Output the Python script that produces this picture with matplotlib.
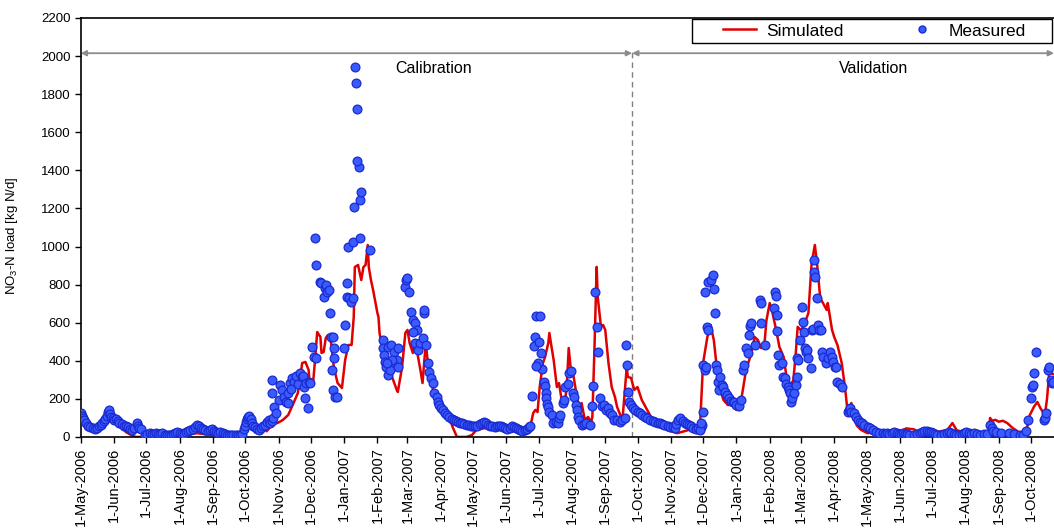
import numpy as np
import pandas as pd
import matplotlib
matplotlib.use("Agg")
import matplotlib.pyplot as plt
import matplotlib.dates as mdates
from matplotlib.lines import Line2D
from matplotlib.patches import Rectangle
from matplotlib.ticker import FuncFormatter

plt.rcParams['font.family'] = ['Liberation Sans', 'DejaVu Sans']

# days counted from 1-May-2006
START = pd.Timestamp('2006-05-01')
END_DAY = 905.5
SPLIT_DAY = 513  # end of calibration period

# simulated NO3-N load, (day, kg N/d)
sim_pts = [
    (0, 79), (2, 131), (5, 73), (10, 47), (14, 37), (19, 63), (24, 89), (27, 79), (30, 100),
    (33, 79), (38, 52), (42, 26), (47, 10), (51, 0), (56, 0), (62, 5), (70, 8), (80, 5),
    (90, 10), (100, 12), (108, 20), (115, 15), (125, 12), (135, 8), (145, 5), (150, 20),
    (154, 45), (157, 63), (161, 52), (166, 50), (171, 47), (173, 30), (176, 50), (179, 73),
    (183, 73), (188, 89), (193, 115), (198, 178), (202, 231), (204, 300), (206, 388),
    (209, 394), (212, 352), (213, 283), (216, 273), (218, 404), (220, 551), (223, 525),
    (224, 441), (226, 446), (228, 520), (230, 535), (233, 493), (235, 388), (236, 352),
    (239, 283), (243, 257), (246, 404), (249, 483), (252, 483), (254, 630), (255, 892),
    (258, 903), (261, 824), (263, 892), (265, 903), (267, 1008), (268, 892), (270, 824),
    (272, 772), (276, 651), (277, 630), (278, 546), (281, 457), (285, 388), (288, 336),
    (290, 310), (294, 247), (295, 236), (299, 368), (302, 546), (304, 562), (306, 493),
    (309, 441), (311, 509), (314, 415), (316, 352), (318, 283), (321, 493), (323, 388),
    (327, 262), (330, 210), (334, 158), (339, 126), (343, 100), (346, 52), (350, 0),
    (359, 0), (364, 10), (368, 37), (375, 45), (381, 52), (388, 40), (395, 50), (402, 38),
    (410, 45), (418, 47), (421, 126), (423, 142), (425, 131), (427, 262), (430, 388),
    (432, 420), (435, 493), (436, 546), (438, 473), (440, 404), (443, 262), (445, 283),
    (447, 210), (450, 178), (452, 247), (454, 467), (456, 352), (458, 336), (461, 231),
    (464, 142), (466, 178), (469, 89), (472, 105), (475, 79), (476, 105), (478, 473),
    (480, 893), (481, 735), (484, 578), (486, 588), (488, 562), (491, 388), (494, 262),
    (497, 210), (499, 158), (502, 115), (504, 89), (508, 367), (509, 315), (512, 310),
    (515, 247), (518, 262), (522, 194), (527, 142), (531, 100), (536, 73), (541, 52),
    (545, 37), (555, 20), (566, 37), (573, 20), (576, 37), (579, 388), (583, 525),
    (586, 588), (589, 509), (592, 352), (595, 247), (598, 194), (602, 168), (607, 168),
    (610, 142), (613, 142), (617, 283), (619, 352), (624, 441), (627, 525), (630, 509),
    (633, 467), (636, 483), (638, 614), (641, 703), (643, 667), (647, 562), (650, 473),
    (654, 420), (657, 300), (660, 262), (663, 300), (665, 420), (667, 578), (670, 560),
    (673, 588), (677, 651), (680, 913), (683, 1008), (685, 913), (688, 730), (690, 709),
    (694, 667), (695, 703), (699, 562), (701, 525), (704, 483), (708, 388), (711, 262),
    (713, 158), (715, 142), (717, 178), (720, 105), (722, 60), (726, 37), (732, 20),
    (740, 25), (750, 15), (760, 20), (768, 45), (775, 40), (780, 25), (790, 20), (800, 30),
    (806, 35), (811, 73), (815, 35), (822, 25), (832, 20), (840, 20), (845, 30), (846, 100),
    (848, 85), (851, 90), (854, 80), (858, 85), (862, 73), (867, 47), (874, 21), (878, 25),
    (881, 60), (883, 115), (887, 160), (890, 184), (893, 150), (897, 115), (899, 200),
    (901, 336), (905, 330),
]

# measured NO3-N load, (day, kg N/d)
meas_pts = [
    # May - Jun 2006
    (0, 126), (1, 110), (2, 100), (3, 90), (5, 75), (7, 60), (9, 52), (11, 45), (13, 40),
    (15, 47), (17, 55), (19, 63), (20, 75), (22, 85), (23, 95), (24, 110), (25, 130),
    (26, 142), (27, 120), (28, 105), (30, 100), (31, 90), (33, 95), (35, 85), (36, 75),
    (38, 68), (40, 60), (42, 55), (44, 50), (46, 40), (48, 35), (50, 45), (52, 75), (53, 60),
    (54, 45), (56, 40),
    # Jul - Sep 2006
    (60, 12), (62, 15), (64, 20), (66, 18), (68, 15), (70, 22), (72, 18), (74, 15), (76, 20),
    (78, 12), (80, 10), (82, 8), (84, 12), (86, 15), (88, 20), (90, 25), (92, 22), (94, 18),
    (96, 15), (98, 25), (100, 30), (102, 35), (104, 40), (106, 52), (108, 62), (110, 55),
    (112, 45), (114, 40), (116, 35), (118, 30), (120, 35), (122, 40), (124, 30), (126, 25),
    (128, 20), (130, 25), (132, 20), (134, 15), (136, 12), (138, 10), (140, 8), (142, 10),
    (144, 8), (146, 10), (148, 12), (150, 18),
    # Oct 2006
    (152, 40), (153, 60), (154, 80), (155, 95), (156, 105), (157, 110), (158, 95), (159, 75),
    (160, 60), (162, 50), (164, 40), (166, 35), (168, 45), (170, 55), (171, 65), (173, 80),
    (175, 90), (176, 75), (178, 85), (179, 100),
    # Nov - Dec 2006
    (178, 300), (178, 231), (180, 158), (182, 126), (184, 194), (185, 273), (187, 247),
    (189, 210), (191, 184), (193, 231), (195, 283), (197, 310), (198, 290), (196, 250),
    (193, 178), (200, 320), (202, 280), (204, 336), (206, 315), (208, 260), (209, 205),
    (211, 152), (207, 320), (210, 283), (212, 290), (213, 283), (215, 473), (217, 420),
    (219, 415), (219, 903), (218, 1045), (223, 814), (224, 808), (226, 735), (227, 782),
    (228, 798), (229, 761), (232, 651), (233, 525), (234, 352), (235, 247), (237, 210),
    (231, 772), (235, 525), (236, 467), (236, 415), (238, 210),
    # Jan 2007
    (246, 588), (245, 467), (248, 808), (248, 735), (250, 730), (251, 709), (253, 730),
    (249, 998), (253, 1024), (260, 1045), (254, 1208), (260, 1244), (261, 1286), (259, 1417),
    (257, 1449), (257, 1722), (256, 1859), (255, 1943), (269, 982),
    # Feb 2007
    (281, 509), (281, 467), (282, 430), (283, 394), (284, 368), (286, 325), (286, 473),
    (289, 483), (291, 446), (292, 378), (294, 404), (295, 368), (295, 467), (290, 404),
    (288, 352), (285, 388),
    # Mar 2007
    (302, 788), (303, 824), (304, 835), (305, 761), (307, 656), (309, 614), (311, 598),
    (313, 562), (309, 551), (311, 493), (314, 457), (316, 493), (318, 520), (319, 651),
    (319, 667), (321, 483), (323, 388), (324, 341), (326, 310), (328, 283), (329, 231),
    (331, 210), (332, 184), (333, 168), (335, 152), (337, 142), (339, 126),
    # Apr - Jun 2007
    (341, 115), (343, 105), (345, 95), (347, 90), (349, 85), (351, 80), (353, 75), (355, 72),
    (357, 70), (359, 65), (361, 62), (363, 60), (365, 58), (367, 55), (369, 60), (371, 68),
    (373, 75), (375, 80), (377, 72), (379, 65), (381, 60), (383, 55), (385, 50), (387, 55),
    (389, 60), (391, 55), (393, 50), (395, 45), (397, 40), (399, 48), (401, 55), (403, 50),
    (405, 45), (407, 40), (409, 35), (411, 30), (413, 35), (415, 40), (417, 50), (418, 60),
    # Jul - Sep 2007
    (420, 215), (422, 478), (423, 525), (424, 635), (427, 635), (426, 499), (428, 441),
    (429, 357), (425, 388), (424, 373), (431, 289), (432, 268), (433, 231), (433, 205),
    (434, 173), (435, 158), (436, 131), (438, 115), (439, 73), (442, 79), (444, 73),
    (445, 100), (446, 115), (449, 178), (450, 194), (451, 262), (453, 278), (454, 336),
    (456, 347), (458, 231), (459, 210), (461, 168), (462, 142), (463, 105), (464, 89),
    (466, 63), (468, 68), (470, 73), (474, 63), (476, 163), (477, 268), (478, 761),
    (480, 578), (481, 446), (483, 205), (485, 163), (487, 168), (489, 142), (491, 152),
    (492, 126), (494, 115), (496, 89), (499, 89), (502, 79), (504, 89), (506, 100),
    (507, 483), (508, 378), (509, 236), (510, 184), (512, 168),
    # Oct - Nov 2007
    (514, 152), (516, 142), (518, 131), (520, 126), (522, 115), (525, 105), (527, 100),
    (530, 89), (532, 85), (534, 79), (537, 75), (539, 73), (541, 68), (543, 63), (546, 58),
    (548, 52), (551, 50), (553, 47), (554, 70), (556, 90), (558, 100), (560, 85), (562, 75),
    (564, 70), (566, 65), (568, 60), (570, 47), (572, 42), (574, 45), (577, 52), (578, 63),
    # Dec 2007
    (576, 37), (577, 73), (579, 131), (579, 378), (581, 352), (582, 368), (583, 578),
    (584, 562), (581, 761), (584, 814), (586, 824), (588, 850), (589, 777), (590, 651),
    (591, 378), (592, 352), (593, 289), (594, 247), (595, 315), (597, 273), (598, 262),
    (599, 236), (601, 220), (603, 205), (605, 189), (607, 184), (608, 184), (610, 168),
    (612, 163), (614, 194),
    # Jan - Apr 2008
    (616, 352), (617, 378), (619, 467), (621, 441), (622, 535), (623, 583), (624, 598),
    (627, 483), (632, 719), (633, 703), (633, 598), (637, 483), (646, 761), (647, 740),
    (645, 677), (648, 640), (648, 556), (649, 430), (650, 378), (652, 388), (653, 315),
    (655, 310), (656, 278), (658, 262), (659, 247), (660, 231), (661, 184), (662, 205),
    (664, 231), (665, 273), (666, 315), (666, 415), (667, 404), (669, 509), (671, 682),
    (672, 604), (673, 551), (674, 467), (675, 446), (676, 457), (677, 415), (679, 362),
    (680, 562), (681, 567), (682, 866), (682, 929), (683, 840), (685, 730), (686, 588),
    (687, 562), (689, 562), (690, 446), (691, 420), (693, 388), (695, 415), (697, 446),
    (699, 420), (700, 394), (702, 368), (703, 368), (704, 289), (706, 278), (708, 262),
    # Apr - May 2008
    (714, 131), (715, 142), (716, 150), (717, 131), (719, 126), (721, 105), (723, 89),
    (725, 79), (727, 73), (729, 63), (732, 52), (734, 47), (737, 37), (740, 26), (743, 21),
    (746, 20),
    # Jun - Sep 2008
    (748, 18), (750, 22), (752, 15), (755, 20), (757, 25), (759, 20), (761, 18), (763, 15),
    (765, 20), (767, 18), (769, 15), (771, 12), (775, 10), (778, 15), (781, 22), (783, 28),
    (785, 30), (787, 32), (789, 28), (791, 25), (793, 20), (795, 15), (797, 10), (800, 12),
    (803, 18), (806, 22), (808, 25), (810, 20), (812, 15), (814, 12), (817, 10), (820, 15),
    (822, 20), (824, 25), (826, 22), (828, 18), (831, 20), (834, 15), (837, 12), (840, 15),
    (843, 18), (846, 63), (848, 47), (849, 32), (852, 26), (856, 20), (864, 21), (868, 15),
    (874, 10), (877, 10), (879, 30),
    # Oct 2008
    (881, 89), (884, 205), (885, 262), (886, 273), (887, 336), (889, 446), (896, 89),
    (897, 100), (898, 126), (900, 352), (901, 368), (903, 300), (904, 283), (905, 289),
]

sim_day, sim_val = np.array(sim_pts, dtype=float).T
meas_day, meas_val = np.array(meas_pts, dtype=float).T

sim_x = START + pd.to_timedelta(sim_day, unit='D')
meas_x = START + pd.to_timedelta(meas_day, unit='D')
x_end = START + pd.Timedelta(days=END_DAY)
x_split = START + pd.Timedelta(days=SPLIT_DAY)

fig = plt.figure(figsize=(10.54, 5.29), dpi=100)
ax = fig.add_axes([0.0766, 0.174, 0.9234, 0.792])

ax.plot(sim_x, sim_val, color='#e00000', lw=1.8, zorder=2)
ax.scatter(meas_x, meas_val, s=40, facecolor='#3a5cff', edgecolor='#1a2ad0',
           linewidths=0.9, zorder=3)

# calibration / validation split
ax.plot([x_split, x_split], [0, 2030], color='#808080', lw=1, ls=(0, (4, 3)), zorder=1)
arrow = dict(arrowstyle='<|-|>', color='#8c8c8c', lw=1.3, mutation_scale=8,
             shrinkA=0, shrinkB=0)
ax.annotate('', xy=(START, 2015), xytext=(x_split, 2015), arrowprops=arrow)
ax.annotate('', xy=(x_split, 2015), xytext=(x_end, 2015), arrowprops=arrow)
ax.text(START + pd.Timedelta(days=328), 1975, 'Calibration', ha='center', va='top',
        fontsize=11.5)
ax.text(START + pd.Timedelta(days=738), 1975, 'Validation', ha='center', va='top',
        fontsize=11.5)

ax.set_xlim(START, x_end)
ax.set_ylim(0, 2200)
ax.set_yticks(np.arange(0, 2201, 200))
ax.xaxis.set_major_locator(mdates.MonthLocator())
ax.xaxis.set_major_formatter(FuncFormatter(
    lambda v, p: (lambda d: f"{d.day}-{d:%b-%Y}")(mdates.num2date(v))))
plt.setp(ax.get_xticklabels(), rotation=90)
ax.tick_params(axis='both', length=4, width=1, direction='out')
ax.tick_params(axis='y', labelsize=9.5)
ax.tick_params(axis='x', labelsize=10.5)
ax.spines['right'].set_visible(False)
for s in ['left', 'bottom', 'top']:
    ax.spines[s].set_linewidth(1.2)

ax.set_ylabel('NO$_{\\mathregular{3}}$-N load [kg N/d]', fontsize=9.5)
ax.yaxis.set_label_coords(-0.062, 0.48)

# legend with a hand-made frame
ax.add_patch(Rectangle((0.628, 0.940), 0.370, 0.0576, transform=ax.transAxes,
                       facecolor='white', edgecolor='black', lw=1, zorder=5))
handles = [Line2D([], [], color='#e00000', lw=1.8),
           Line2D([], [], ls='', marker='o', ms=5, markerfacecolor='#3a5cff',
                  markeredgecolor='#1a2ad0')]
leg = ax.legend(handles, ['Simulated', 'Measured'], ncol=2, loc='center',
                bbox_to_anchor=(0.8156, 0.969), frameon=False, fontsize=12.5,
                handlelength=1.85, handletextpad=0.6, columnspacing=3.6,
                borderpad=0.1, borderaxespad=0)
leg.set_zorder(6)

fig.savefig('out.png', dpi=100)
